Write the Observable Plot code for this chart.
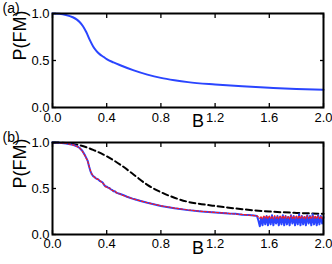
<!DOCTYPE html>
<html><head><meta charset="utf-8">
<script src="https://cdn.jsdelivr.net/npm/d3@7"></script>
<script src="https://cdn.jsdelivr.net/npm/@observablehq/plot@0.6"></script>
<style>
body{margin:0;background:#fff;}
#c{position:relative;width:332px;height:264px;overflow:hidden;font-family:"Liberation Sans",Arial,sans-serif;}
#a,#b{position:absolute;left:0;}
#a{top:0px} #b{top:128px}
svg{overflow:visible}
</style></head><body><div id="c"><div id="a"></div><div id="b"></div></div>
<script>
const xTicks = [0, 0.4, 0.8, 1.2, 1.6, 2.0];
const yTicks = [0, 0.5, 1.0];

// panel (a)
const aB = [0,0.05,0.1,0.15,0.18,0.2,0.225,0.25,0.275,0.3,0.325,0.35,0.375,0.4,0.45,0.5,0.6,0.7,0.8,0.9,1.0,1.2,1.4,1.6,1.8,2.0];
const aP = [1.0,0.997,0.985,0.96,0.935,0.91,0.865,0.8,0.72,0.65,0.6,0.565,0.54,0.515,0.48,0.45,0.395,0.35,0.315,0.29,0.27,0.245,0.225,0.21,0.197,0.188];

// panel (b)
const bB = [0,0.05,0.1,0.15,0.18,0.2,0.22,0.24,0.26,0.27,0.28,0.29,0.3,0.31,0.32,0.33,0.34,0.35,0.36,0.37,0.38,0.39,0.4,0.41,0.42,0.43,0.44,0.45,0.46,0.47,0.48,0.5,0.52,0.55,0.6,0.65,0.7,0.8,0.9,1.0,1.1,1.2,1.3,1.35,1.4,1.45,1.5];
const bBlue = [1.0,0.998,0.99,0.975,0.96,0.94,0.91,0.86,0.8,0.74,0.69,0.655,0.635,0.625,0.61,0.605,0.595,0.58,0.575,0.565,0.54,0.525,0.52,0.51,0.505,0.49,0.485,0.47,0.47,0.455,0.45,0.44,0.43,0.41,0.385,0.365,0.345,0.31,0.285,0.265,0.25,0.24,0.228,0.225,0.215,0.212,0.205];
const bRed = [1.0,0.997,0.99,0.974,0.958,0.94,0.905,0.855,0.795,0.745,0.695,0.66,0.64,0.62,0.615,0.6,0.6,0.585,0.57,0.56,0.545,0.52,0.515,0.515,0.5,0.495,0.48,0.475,0.465,0.46,0.445,0.44,0.425,0.41,0.385,0.365,0.345,0.312,0.287,0.267,0.252,0.24,0.23,0.222,0.218,0.21,0.205];
const tailB = [1.51,1.52,1.53,1.54,1.55,1.56,1.57,1.58,1.59,1.6,1.61,1.62,1.63,1.64,1.65,1.66,1.67,1.68,1.69,1.7,1.71,1.72,1.73,1.74,1.75,1.76,1.77,1.78,1.79,1.8,1.81,1.82,1.83,1.84,1.85,1.86,1.87,1.88,1.89,1.9,1.91,1.92,1.93,1.94,1.95,1.96,1.97,1.98,1.99,2.0];
const tailBlue = [0.2,0.15,0.09,0.18,0.1,0.19,0.11,0.2,0.1,0.19,0.11,0.21,0.1,0.19,0.12,0.2,0.1,0.19,0.11,0.21,0.1,0.2,0.11,0.19,0.1,0.21,0.12,0.2,0.1,0.19,0.11,0.22,0.1,0.2,0.11,0.19,0.1,0.21,0.12,0.2,0.1,0.22,0.11,0.19,0.1,0.21,0.11,0.2,0.12,0.19];
const tailRed = [0.2,0.19,0.175,0.2,0.17,0.2,0.175,0.205,0.17,0.2,0.175,0.2,0.17,0.205,0.175,0.2,0.17,0.2,0.175,0.205,0.17,0.2,0.175,0.2,0.17,0.205,0.175,0.2,0.17,0.2,0.175,0.205,0.17,0.2,0.175,0.2,0.17,0.205,0.175,0.2,0.17,0.2,0.175,0.205,0.17,0.2,0.175,0.2,0.17,0.19];
const dashB = [0,0.1,0.15,0.2,0.3,0.4,0.5,0.6,0.7,0.8,0.9,1.0,1.1,1.2,1.4,1.6,1.8,2.0];
const dashP = [1.0,0.995,0.985,0.97,0.92,0.85,0.76,0.65,0.54,0.46,0.4,0.355,0.33,0.31,0.275,0.25,0.235,0.225];

const BLUE = "#2a45ff", RED = "#ff1a1a";
const fmt = d3.format(".1f");

function panel({height, mt, mb, xpad, tag, lines}) {
  return Plot.plot({
    width: 332, height, marginLeft: 52, marginRight: 9, marginTop: mt, marginBottom: mb,
    x: {domain: [0, 2]}, y: {domain: [0, 1]},
    style: {fontFamily: "Liberation Sans, Arial, sans-serif", fontSize: "13px", color: "#000", background: "transparent", overflow: "visible"},
    marks: [
      ...lines,
      Plot.frame({stroke: "#000", strokeWidth: 2}),
      Plot.axisX({ticks: xTicks, anchor: "bottom", tickSize: -4, tickFormat: () => "", label: null, strokeWidth: 1.3}),
      Plot.axisX({ticks: xTicks, anchor: "top", tickSize: -4, tickFormat: () => "", label: null, strokeWidth: 1.3}),
      Plot.axisY({ticks: yTicks, anchor: "left", tickSize: -4, tickFormat: () => "", label: null, strokeWidth: 1.3}),
      Plot.axisY({ticks: yTicks, anchor: "right", tickSize: -4, tickFormat: () => "", label: null, strokeWidth: 1.3}),
      Plot.axisX({ticks: xTicks, anchor: "bottom", tickSize: 0, tickPadding: xpad, tickFormat: fmt, label: null, fontSize: 13}),
      Plot.axisY({ticks: yTicks, anchor: "left", tickSize: 0, tickPadding: 3, tickFormat: fmt, label: null, fontSize: 13}),
      Plot.text(["B"], {frameAnchor: "bottom", dx: 10, dy: 19.5, fontSize: 18}),
      Plot.text(["P(FM)"], {frameAnchor: "left", rotate: -90, dx: -32, fontSize: 18}),
      Plot.text([tag], {frameAnchor: "top-left", dx: -50, dy: -10, textAnchor: "start", lineAnchor: "top", fontSize: 14})
    ]
  });
}

const aData = aB.map((b, i) => ({b, p: aP[i]}));
const blueData = bB.map((b, i) => ({b, p: bBlue[i]})).concat(tailB.map((b, i) => ({b, p: tailBlue[i]})));
const redData = bB.map((b, i) => ({b, p: bRed[i]})).concat(tailB.map((b, i) => ({b, p: tailRed[i]})));
const dashData = dashB.map((b, i) => ({b, p: dashP[i]}));

document.getElementById("a").append(panel({
  height: 132, mt: 13, mb: 25, xpad: 5.5, tag: "(a)",
  lines: [Plot.line(aData, {x: "b", y: "p", stroke: BLUE, strokeWidth: 2, curve: "monotone-x"})]
}));
document.getElementById("b").append(panel({
  height: 136, mt: 14, mb: 30, xpad: 4, tag: "(b)",
  lines: [
    Plot.line(dashData, {x: "b", y: "p", stroke: "#000", strokeWidth: 2, strokeDasharray: "6,3.5", curve: "monotone-x"}),
    Plot.line(blueData, {x: "b", y: "p", stroke: BLUE, strokeWidth: 2}),
    Plot.line(redData, {x: "b", y: "p", stroke: RED, strokeWidth: 1.2, strokeDasharray: "2,2"})
  ]
}));
</script></body></html>
